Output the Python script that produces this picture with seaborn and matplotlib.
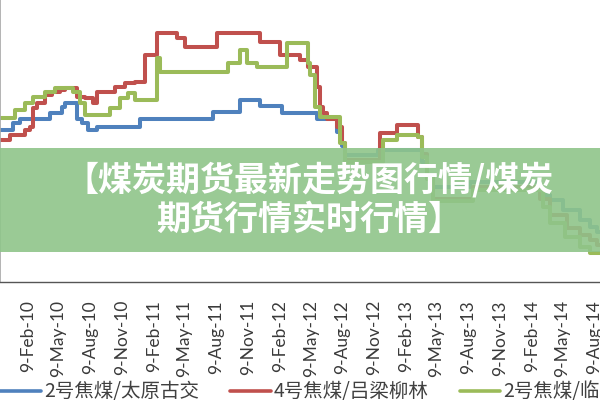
import matplotlib
matplotlib.use("Agg")
import matplotlib.pyplot as plt
import matplotlib.dates as mdates
from matplotlib.patches import Rectangle
import pandas as pd
import seaborn as sns

# ---------------- data ----------------
series_names = ["2号焦煤/太原古交", "4号焦煤/吕梁柳林", "2号焦煤/临汾"]
series_colors = ["#4F81BD", "#C0504D", "#9BBB59"]

blue_dates = ["2009-11-20", "2009-12-28", "2010-01-17", "2010-04-14", "2010-05-19", "2010-05-27",
              "2010-07-01", "2010-07-16", "2010-08-02", "2010-08-28", "2010-12-31", "2011-07-31",
              "2011-10-17", "2011-12-14", "2012-02-15", "2012-05-26", "2012-07-23", "2012-08-07",
              "2012-08-16", "2012-11-19", "2013-03-27", "2013-04-11", "2013-04-28", "2013-08-13",
              "2014-03-04", "2014-04-02", "2014-05-10", "2014-06-28", "2014-07-27", "2014-08-17",
              "2014-08-30"]
blue_vals = [1347, 1372, 1386, 1408, 1430, 1444,
             1388, 1372, 1347, 1358, 1386, 1411,
             1455, 1433, 1408, 1386, 1340, 1290,
             1258, 1275, 1230, 1175, 1142, 1160,
             1113, 1095, 1059, 1023, 998, 980,
             980]

red_dates = ["2009-11-20", "2009-12-19", "2010-01-31", "2010-02-15", "2010-02-24", "2010-03-07",
             "2010-03-30", "2010-04-20", "2010-05-13", "2010-05-27", "2010-07-01", "2010-07-24",
             "2010-08-17", "2010-08-28", "2010-10-19", "2010-11-17", "2010-12-16", "2011-01-14",
             "2011-02-18", "2011-04-17", "2011-05-10", "2011-08-11", "2011-12-14", "2012-02-10",
             "2012-04-07", "2012-04-30", "2012-05-26", "2012-06-04", "2012-06-13", "2012-06-24",
             "2012-07-23", "2012-08-07", "2012-08-16", "2012-11-25", "2013-01-13", "2013-03-15",
             "2013-03-27", "2013-04-11", "2013-04-28", "2013-08-22", "2014-03-04", "2014-04-02",
             "2014-05-22", "2014-06-28", "2014-07-27", "2014-08-17", "2014-08-30"]
red_vals = [1311, 1329, 1347, 1358, 1426, 1444,
            1473, 1483, 1491, 1498, 1465, 1462,
            1444, 1483, 1501, 1516, 1519, 1617,
            1696, 1678, 1645, 1696, 1663, 1617,
            1599, 1573, 1500, 1430, 1408, 1386,
            1358, 1300, 1240, 1336, 1365, 1322,
            1260, 1180, 1100, 1142, 1100, 1040,
            994, 969, 951, 933, 933]

green_dates = ["2009-11-20", "2010-01-02", "2010-01-31", "2010-02-24", "2010-03-30", "2010-04-28",
               "2010-06-20", "2010-07-10", "2010-07-24", "2010-10-05", "2010-11-03", "2010-11-26",
               "2010-12-16", "2011-02-18", "2011-02-27", "2011-09-12", "2011-10-17", "2011-11-06",
               "2011-12-05", "2012-02-29", "2012-04-30", "2012-05-06", "2012-05-21", "2012-06-04",
               "2012-08-01", "2012-08-16", "2012-12-04", "2013-01-13", "2013-03-15", "2013-03-27",
               "2013-04-11", "2013-04-28", "2013-08-22", "2014-03-13", "2014-04-02", "2014-05-16",
               "2014-06-28", "2014-07-27", "2014-08-30"]
green_vals = [1390, 1419, 1444, 1465, 1483, 1498,
              1483, 1444, 1401, 1426, 1462, 1480,
              1455, 1606, 1555, 1588, 1635, 1588,
              1573, 1660, 1588, 1545, 1430, 1394,
              1300, 1230, 1311, 1329, 1322, 1250,
              1170, 1090, 1130, 1070, 1012, 962,
              926, 904, 904]

x_start, x_end = "2009-11-20", "2014-08-26"
tick_dates = pd.date_range("2010-02-01", "2014-08-01", freq="3MS") + pd.Timedelta(days=8)
banner_line1 = "【煤炭期货最新走势图行情/煤炭"
banner_line2 = "期货行情实时行情】"

# ---------------- build table ----------------
frames = []
for name, d, v in zip(series_names, [blue_dates, red_dates, green_dates],
                      [blue_vals, red_vals, green_vals]):
    frames.append(pd.DataFrame({"date": pd.to_datetime(d), "value": v, "series": name}))
df = pd.concat(frames, ignore_index=True)

# ---------------- draw ----------------
sns.set_theme(style="white")
plt.rcParams["font.family"] = ["Lato", "DejaVu Sans"]

fig = plt.figure(figsize=(6, 4), dpi=100)
ax = fig.add_axes([0.0, 1 - 282 / 400, 1.0, 282 / 400])

sns.lineplot(data=df, x="date", y="value", hue="series", hue_order=series_names,
             palette=series_colors, drawstyle="steps-post", linewidth=2.9,
             estimator=None, legend=False, ax=ax)

ax.set_xlim(pd.Timestamp(x_start), pd.Timestamp(x_end))
ax.set_ylim(800, 800 + 282 * 3.597)
ax.set_yticks(range(800, 1900, 100))
ax.set_xticks(tick_dates)
ax.xaxis.set_major_formatter(mdates.DateFormatter("%-d-%b-%y"))
ax.set_xlabel("")
ax.set_ylabel("")
ax.tick_params(axis="x", direction="in", length=5, width=1, color="#555555",
               labelrotation=90, labelsize=12.5, labelcolor="#3a3a3a", pad=13)
ax.tick_params(axis="y", direction="in", length=5, width=1.2, color="#666666",
               labelleft=False)
for s in ["top", "right"]:
    ax.spines[s].set_visible(False)
ax.spines["bottom"].set_color("#555555")
ax.spines["bottom"].set_linewidth(1)
ax.spines["left"].set_color("#aaaaaa")
ax.grid(False)

# legend
handles = [plt.Line2D([], [], color=c, linewidth=2.6) for c in series_colors]
leg = fig.legend(handles, series_names, loc="center left", bbox_to_anchor=(0.0, 1 - 392 / 400),
                 ncol=3, frameon=False, borderpad=0, borderaxespad=0, handlelength=2.1,
                 handletextpad=0.15, columnspacing=1.6,
                 prop={"family": ["Noto Sans CJK SC", "DejaVu Sans"], "size": 14})
for t in leg.get_texts():
    t.set_color("#404040")

# banner overlay
fig.patches.append(Rectangle((0, 1 - 252 / 400), 1, 104 / 400, transform=fig.transFigure,
                             facecolor="#8fc58a", alpha=0.9, edgecolor="none", zorder=2))
fig.text(0.515, 1 - 180 / 400, banner_line1, ha="center", va="center", color="white",
         fontsize=24.5, fontweight="black", family=["Noto Sans CJK SC", "DejaVu Sans"], zorder=3)
fig.text(0.515, 1 - 219 / 400, banner_line2, ha="center", va="center", color="white",
         fontsize=24.5, fontweight="black", family=["Noto Sans CJK SC", "DejaVu Sans"], zorder=3)

fig.savefig("out.png", dpi=100)
